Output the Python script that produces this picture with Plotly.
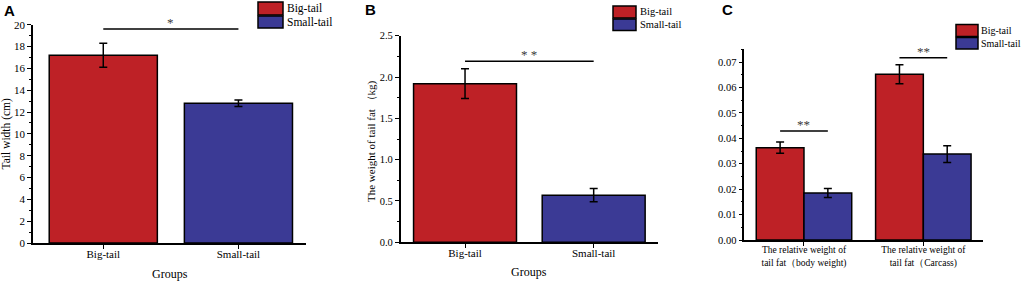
import plotly.graph_objects as go

# ---------------- data ----------------
groups_ab = ["Big-tail", "Small-tail"]
series_names = ["Big-tail", "Small-tail"]

tail_width = [17.2, 12.8]
tail_width_err = [1.1, 0.3]

fat_weight = [1.92, 0.57]
fat_weight_err = [0.18, 0.08]

groups_c = ["The relative weight of<br>tail fat（body weight)",
            "The relative weight of<br>tail fat（Carcass)"]
rel_big = [0.0363, 0.0652]
rel_big_err = [0.0022, 0.0037]
rel_small = [0.0185, 0.0338]
rel_small_err = [0.0018, 0.0033]

sig_a = 19.6
sig_b = 2.19
sig_c = [0.0429, 0.0717]

RED = "#BE2126"
BLUE = "#3B3A95"
FONT = "Liberation Serif"

fig = go.Figure()

def err(vals):
    return dict(type="data", array=vals, color="black", thickness=1.5, width=4, visible=True)

line = dict(color="black", width=1.5)

fig.add_trace(go.Bar(x=groups_ab, y=tail_width, error_y=err(tail_width_err),
                     marker=dict(color=[RED, BLUE], line=line), width=0.8,
                     xaxis="x", yaxis="y", showlegend=False))
fig.add_trace(go.Bar(x=groups_ab, y=fat_weight, error_y=err(fat_weight_err),
                     marker=dict(color=[RED, BLUE], line=line), width=0.8,
                     xaxis="x2", yaxis="y2", showlegend=False))
fig.add_trace(go.Bar(x=groups_c, y=rel_big, error_y=err(rel_big_err), name=series_names[0],
                     marker=dict(color=RED, line=line), xaxis="x3", yaxis="y3", showlegend=False))
fig.add_trace(go.Bar(x=groups_c, y=rel_small, error_y=err(rel_small_err), name=series_names[1],
                     marker=dict(color=BLUE, line=line), xaxis="x3", yaxis="y3", showlegend=False))

W, H = 1021, 281
def px(x): return x / W
def py(y): return 1 - y / H

def xax(dom, anchor, fs, standoff):
    return dict(type="category", showline=True, linecolor="black", linewidth=1.5,
                ticks="outside", ticklen=4, tickcolor="black", tickwidth=1.2,
                tickfont=dict(family=FONT, size=fs, color="black"), ticklabelstandoff=standoff,
                showgrid=False, zeroline=False, range=[-0.5, 1.5], fixedrange=True,
                automargin=False, domain=dom, anchor=anchor)

def yax(rng, dtick, anchor, minor_d, dom, fmt, fs):
    return dict(showline=True, linecolor="black", linewidth=1.5, ticks="outside", ticklen=4,
                tickcolor="black", tickwidth=1.2, tickfont=dict(family=FONT, size=fs, color="black"),
                showgrid=False, zeroline=False, range=rng, dtick=dtick, anchor=anchor,
                minor=dict(ticks="outside", ticklen=2, dtick=minor_d, tickcolor="black", tickwidth=1),
                fixedrange=True, automargin=False, domain=dom, tickformat=fmt)

fig.update_layout(
    width=W, height=H, margin=dict(l=0, r=0, t=0, b=0, autoexpand=False),
    paper_bgcolor="white", plot_bgcolor="white",
    barmode="group", bargap=0.2, bargroupgap=0,
    font=dict(family=FONT, color="black"),
    xaxis=xax([px(33), px(306)], "y", 11, -4),
    yaxis=yax([0, 20], 2, "x", 1, [py(243), py(24.7)], "d", 11),
    xaxis2=xax([px(400.7), px(658)], "y2", 11, -4),
    yaxis2=yax([0, 2.5], 0.5, "x2", 0.25, [py(242.3), py(35.7)], ".1f", 10.5),
    xaxis3=xax([px(744.3), px(983)], "y3", 9.5, -4),
    yaxis3=yax([0, 0.075], 0.01, "x3", 0.005, [py(240), py(49.3)], ".2f", 10.5),
)
fig.update_layout(xaxis=dict(range=[-0.52, 1.5]))

shapes = []
annotations = []

def sig(xref, yref, x0, x1, y, txt):
    shapes.append(dict(type="line", xref=xref, yref=yref, x0=x0, x1=x1, y0=y, y1=y,
                       line=dict(color="black", width=1.5)))
    annotations.append(dict(xref=xref, yref=yref, x=(x0 + x1) / 2, y=y, text=txt, showarrow=False,
                            yanchor="bottom", yshift=-3, font=dict(family=FONT, size=13, color="#3a3a3a")))
sig("x", "y", 0, 1, sig_a, "*")
sig("x2", "y2", 0, 1, sig_b, "* *")
sig("x3", "y3", -0.2, 0.2, sig_c[0], "**")
sig("x3", "y3", 0.8, 1.2, sig_c[1], "**")

# legends (drawn boxes)
def legend(x0, x1, ytop, ymid, ybot, tx, fs):
    for (y0, y1, c, name) in [(ytop, ymid, RED, series_names[0]), (ymid + 1, ybot, BLUE, series_names[1])]:
        shapes.append(dict(type="rect", xref="paper", yref="paper", x0=px(x0), x1=px(x1),
                           y0=py(y1), y1=py(y0), fillcolor=c, line=dict(color="black", width=1.5)))
        annotations.append(dict(xref="paper", yref="paper", x=px(tx), y=py((y0 + y1) / 2), text=name,
                                showarrow=False, xanchor="left", yanchor="middle",
                                font=dict(family=FONT, size=fs, color="black")))
legend(258, 283, 2, 15, 28, 285, 11.5)
legend(613, 636, 6, 18, 30.5, 638, 10.5)
legend(956, 978, 24.5, 36.5, 49, 979, 10)

# axis titles
def title(x, y, text, fs, angle=0):
    annotations.append(dict(xref="paper", yref="paper", x=px(x), y=py(y), text=text, showarrow=False,
                            xanchor="center", yanchor="middle", textangle=angle,
                            font=dict(family=FONT, size=fs, color="black")))
title(170, 274, "Groups", 12)
title(529, 272, "Groups", 12)
title(6, 133.5, "Tail width (cm)", 11.5, -90)
title(371, 141, "The weight of tail fat （kg)", 11, -90)

# panel labels
for (x, y, t) in [(9.5, 11, "A"), (370, 9.5, "B"), (727, 9.5, "C")]:
    annotations.append(dict(xref="paper", yref="paper", x=px(x), y=py(y), text="<b>%s</b>" % t,
                            showarrow=False, xanchor="center", yanchor="middle",
                            font=dict(family="Liberation Sans", size=15, color="black")))

fig.update_layout(shapes=shapes, annotations=annotations)
fig.write_html("out.html", config=dict(displayModeBar=False),
               post_script="document.body.style.margin='0px';")
